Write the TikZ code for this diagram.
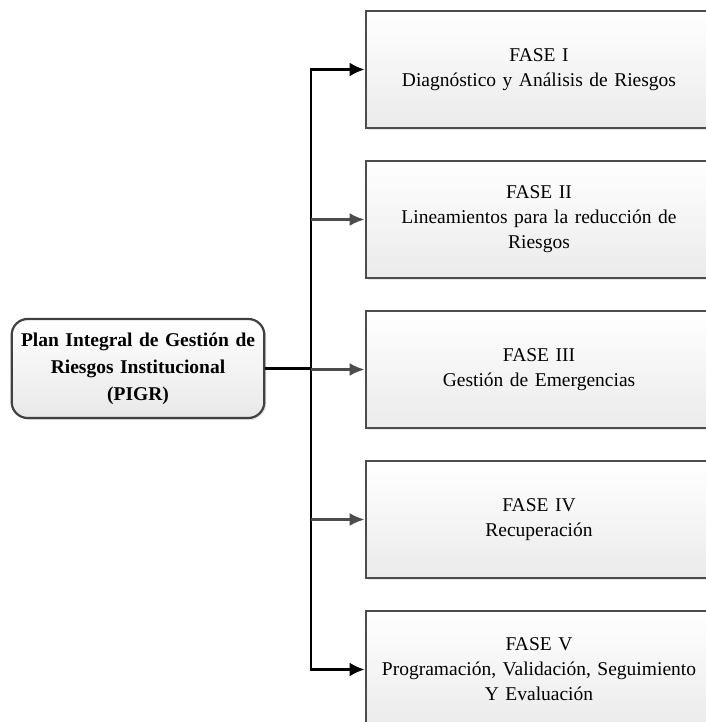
\documentclass[tikz,border=0pt]{standalone}
\usepackage{fontspec}
\setmainfont{Liberation Serif}
\usepackage{tikz}
\usetikzlibrary{shapes.geometric,arrows,arrows.meta,shadows}
\tikzstyle{fase} = 
[
	rectangle, 
	minimum width = 344pt, 
	minimum height = 117pt, 
	text width = 340pt,
	align = center, 
	draw = black!70, 
	line width = 2.2pt,
	top color = white,
	bottom color = black!8,
	drop shadow = {opacity=0.2, shadow xshift=2pt, shadow yshift=-2pt},
	font = \fontsize{19.5}{25}\selectfont
]
\tikzstyle{plan} = 
	[
		rectangle, 
		rounded corners = 16pt,
		minimum width = 250pt, 
		minimum height = 99pt, 
		text width = 246pt,
		align = center,
		draw = black!75, 
		line width = 2.2pt,
		top color = white,
		bottom color = black!9,
		drop shadow = {opacity=0.2, shadow xshift=2pt, shadow yshift=-2pt},
		font = \bfseries\fontsize{19.5}{27}\selectfont
	]
\tikzstyle{line} = [line width=2.4pt, draw=black]
\tikzstyle{arrow} = [line width=2.4pt, draw=black, ->, >={Latex[length=15pt,width=14pt]}]
\tikzstyle{grayarrow} = [line width=2.4pt, draw=black!70, ->, >={Latex[length=15pt,width=13pt]}]

\begin{document}
\begin{tikzpicture}[x=1pt, y=-1pt, node distance=150pt]
	\useasboundingbox (0,0) rectangle (705,722);

	\node 
	(fase1) 
	[fase] 
	at (539,69.5)
	{FASE I\\Diagnóstico y Análisis de Riesgos};
	
	\node
	(fase2)
	[
		fase,
		below of = fase1
	]
	{
		FASE II\\Lineamientos para la reducción de\\Riesgos
	}
	;
	
	\node
	(fase3)
	[
		fase,
		below of = fase2
	]
	{
		FASE III\\Gestión de Emergencias
	}
	;
	
	\node
	(fase4)
	[
		fase,
		below of = fase3
	]
	{
		FASE IV\\Recuperación
	};	

	\node
	(fase5)
	[
		fase,
		below of = fase4
	]
	{
		FASE V\\Programación, Validación, Seguimiento\\Y Evaluación
	};

	\node
	(plan)
	[plan]
	at (138,368.5)
	{
		Plan Integral de Gestión de\\Riesgos Institucional\\(PIGR)
	};

	\coordinate (bus) at (311,368.5);
	
	\draw [line] (plan.east) -- (bus);
	\draw [arrow] (bus) |- (fase1.west);
	\draw [arrow] (bus) |- (fase5.west);
	\draw [grayarrow] (bus |- fase2.west) -- (fase2.west);
	\draw [grayarrow] (bus |- fase3.west) -- (fase3.west);
	\draw [grayarrow] (bus |- fase4.west) -- (fase4.west);
	
\end{tikzpicture}
\end{document}
